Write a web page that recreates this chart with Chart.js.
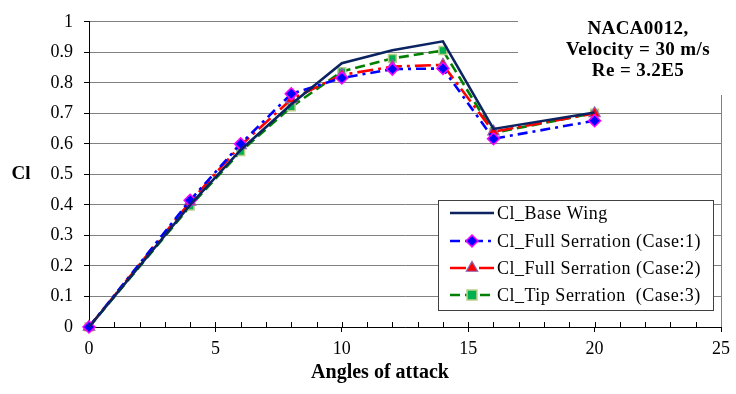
<!DOCTYPE html>
<html>
<head>
<meta charset="utf-8">
<script src="https://cdn.jsdelivr.net/npm/chart.js@4"></script>
<style>
  html, body { margin: 0; padding: 0; background: #fff; }
  #wrap { width: 736px; height: 394px; }
</style>
</head>
<body>
<div id="wrap"><canvas id="c" width="736" height="394"></canvas></div>
<script>
// ---- data ----
const angles = [0, 4, 6, 8, 10, 12, 14, 16, 20];
const clBase = [0, 0.40, 0.58, 0.73, 0.864, 0.907, 0.936, 0.649, 0.703];
const clCase1 = [0, 0.415, 0.60, 0.764, 0.816, 0.845, 0.847, 0.617, 0.676];
const clCase2 = [0, 0.41, 0.595, 0.746, 0.826, 0.853, 0.859, 0.64, 0.70];
const clCase3 = [0, 0.396, 0.575, 0.721, 0.837, 0.880, 0.906, 0.636, 0.701];
const seriesNames = ['Cl_Base Wing', 'Cl_Full Serration (Case:1)', 'Cl_Full Serration (Case:2)', 'Cl_Tip Serration  (Case:3)'];
const xTickValues = [0, 5, 10, 15, 20, 25];
const yTickLabels = ['0', '0.1', '0.2', '0.3', '0.4', '0.5', '0.6', '0.7', '0.8', '0.9', '1'];
const noteLines = ['NACA0012,', 'Velocity = 30 m/s', 'Re = 3.2E5'];
const xTitle = 'Angles of attack';
const yTitle = 'Cl';

const pts = (ys) => angles.map((a, i) => ({ x: a, y: ys[i] }));
const SERIF = '"Liberation Serif", "Times New Roman", serif';

const datasets = [
  { label: seriesNames[0], data: pts(clBase), borderColor: '#0b2360', borderWidth: 2.6,
    pointRadius: 0, pointStyle: false, borderDash: [] },
  { label: seriesNames[1], data: pts(clCase1), borderColor: '#0000ff', borderWidth: 2.6,
    borderDash: [10, 5, 3, 5], pointStyle: 'rectRot', pointRadius: 6,
    pointBackgroundColor: '#0000ff', pointBorderColor: '#ff00ff', pointBorderWidth: 1.5 },
  { label: seriesNames[2], data: pts(clCase2), borderColor: '#ff0000', borderWidth: 2.6,
    borderDash: [16, 5, 3, 5], pointStyle: 'triangle', pointRadius: 6.5,
    pointBackgroundColor: '#ff0000', pointBorderColor: '#8a5fb0', pointBorderWidth: 1.2 },
  { label: seriesNames[3], data: pts(clCase3), borderColor: '#008000', borderWidth: 2.6,
    borderDash: [10, 5], pointStyle: 'rect', pointRadius: 5.5,
    pointBackgroundColor: '#00b050', pointBorderColor: '#b9cf88', pointBorderWidth: 1.5 }
];
datasets.forEach(d => { d.fill = false; d.tension = 0; d.clip = false; d.showLine = true; });

const decor = {
  id: 'decor',
  beforeDatasetsDraw(chart) {
    const { ctx, chartArea: a, scales: { x } } = chart;
    ctx.save();
    ctx.strokeStyle = '#808080';
    ctx.lineWidth = 1;
    ctx.beginPath();
    ctx.moveTo(Math.round(a.right) + 0.5, a.top);
    ctx.lineTo(Math.round(a.right) + 0.5, a.bottom);
    ctx.stroke();
    ctx.strokeStyle = '#000';
    ctx.beginPath();
    for (let v = 1; v < 25; v++) {
      const px = Math.round(x.getPixelForValue(v)) + 0.5;
      ctx.moveTo(px, a.bottom);
      ctx.lineTo(px, a.bottom - 5);
    }
    ctx.stroke();
    ctx.restore();
  },
  afterDatasetsDraw(chart) {
    const { ctx } = chart;
    ctx.save();
    // annotation box
    ctx.fillStyle = '#fff';
    ctx.fillRect(518, 0, 204, 95);
    ctx.fillStyle = '#000';
    ctx.textAlign = 'center';
    ctx.textBaseline = 'middle';
    ctx.font = 'bold 19px ' + SERIF;
    ctx.letterSpacing = '0.4px';
    noteLines.forEach((t, i) => ctx.fillText(t, 638, 29 + i * 21));
    // axis titles
    ctx.letterSpacing = '0px';
    ctx.font = 'bold 19px ' + SERIF;
    ctx.fillText(yTitle, 21, 174);
    ctx.font = 'bold 20px ' + SERIF;
    ctx.fillText(xTitle, 380, 373);
    // legend
    const L = 438, T = 200, W = 275, H = 110;
    ctx.fillStyle = '#fff';
    ctx.fillRect(L, T, W, H);
    ctx.strokeStyle = '#404040';
    ctx.lineWidth = 1;
    ctx.strokeRect(L + 0.5, T + 0.5, W, H);
    const rows = [213, 241, 268, 295];
    chart.data.datasets.forEach((d, i) => {
      const y = rows[i];
      ctx.save();
      ctx.strokeStyle = d.borderColor;
      ctx.lineWidth = d.borderWidth;
      ctx.setLineDash(d.borderDash || []);
      ctx.beginPath();
      ctx.moveTo(450, y);
      ctx.lineTo(494, y);
      ctx.stroke();
      ctx.restore();
      if (d.pointStyle) {
        ctx.save();
        ctx.fillStyle = d.pointBackgroundColor;
        ctx.strokeStyle = d.pointBorderColor;
        ctx.lineWidth = d.pointBorderWidth;
        ctx.beginPath();
        const r = d.pointRadius;
        if (d.pointStyle === 'rectRot') {
          ctx.moveTo(472, y - r); ctx.lineTo(472 + r, y); ctx.lineTo(472, y + r); ctx.lineTo(472 - r, y); ctx.closePath();
        } else if (d.pointStyle === 'triangle') {
          ctx.moveTo(472, y - r); ctx.lineTo(472 + r * 0.87, y + r * 0.5); ctx.lineTo(472 - r * 0.87, y + r * 0.5); ctx.closePath();
        } else {
          const s = r * 0.9;
          ctx.rect(472 - s, y - s, 2 * s, 2 * s);
        }
        ctx.fill(); ctx.stroke();
        ctx.restore();
      }
      ctx.fillStyle = '#000';
      ctx.font = '18px ' + SERIF;
      ctx.letterSpacing = '0.5px';
      ctx.textAlign = 'left';
      ctx.textBaseline = 'middle';
      ctx.fillText(d.label, 497, y + 1);
      ctx.letterSpacing = '0px';
    });
    ctx.restore();
  }
};

new Chart(document.getElementById('c'), {
  type: 'line',
  data: { datasets },
  plugins: [decor],
  options: {
    responsive: false,
    animation: false,
    devicePixelRatio: 1,
    layout: { padding: { left: 0, right: 11, top: 16, bottom: 0 } },
    plugins: { legend: { display: false }, tooltip: { enabled: false }, title: { display: false } },
    scales: {
      x: {
        type: 'linear', min: 0, max: 25,
        afterBuildTicks: (s) => { s.ticks = xTickValues.map(v => ({ value: v })); },
        afterFit: (s) => { s.height = 67; },
        grid: { drawOnChartArea: false, drawTicks: true, tickLength: 5, color: '#000' },
        border: { color: '#000', width: 1 },
        ticks: { color: '#000', padding: 6, font: { family: SERIF, size: 18 }, maxRotation: 0 },
        title: { display: false }
      },
      y: {
        min: 0, max: 1,
        afterBuildTicks: (s) => { s.ticks = yTickLabels.map(t => ({ value: parseFloat(t) })); },
        afterFit: (s) => { s.width = 89; },
        grid: { color: '#808080', lineWidth: 1, drawTicks: true, tickLength: 5, tickColor: '#000' },
        border: { color: '#000', width: 1 },
        ticks: { color: '#000', padding: 11, font: { family: SERIF, size: 18 },
                 callback: (v) => yTickLabels[Math.round(v * 10)] }
      }
    }
  }
});
</script>
</body>
</html>
